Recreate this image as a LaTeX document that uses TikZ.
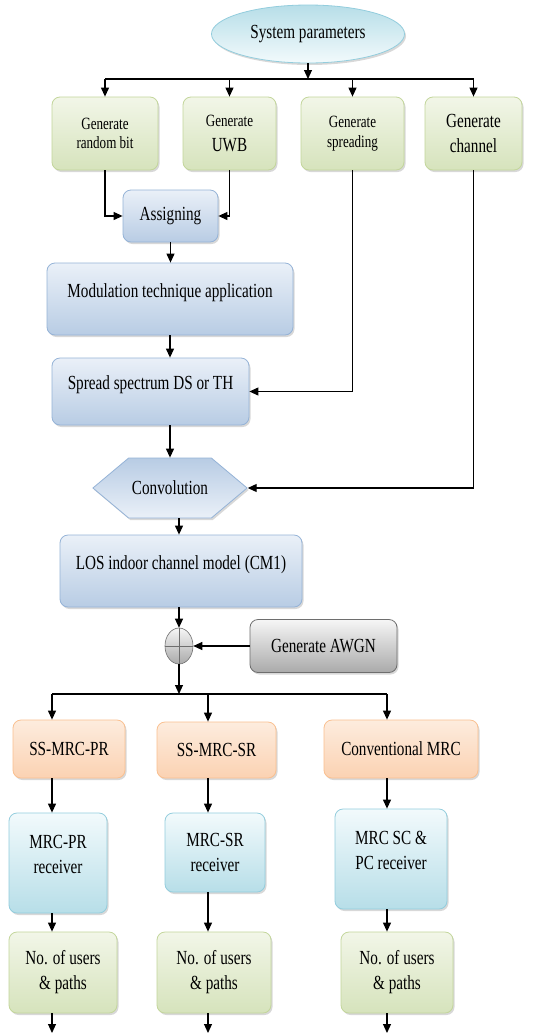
\documentclass[tikz,border=0pt]{standalone}
\usepackage{fontspec}
\setmainfont{Liberation Serif}[FakeStretch=0.76]
\usepackage{tikz}
\usetikzlibrary{shapes.geometric,shapes.symbols,shadows,arrows.meta}
\definecolor{greentop}{RGB}{242,246,232}
\definecolor{greenbot}{RGB}{214,227,188}
\definecolor{greenline}{RGB}{195,214,155}
\definecolor{bluetop}{RGB}{234,240,248}
\definecolor{bluebot}{RGB}{184,204,228}
\definecolor{blueline}{RGB}{149,179,215}
\definecolor{cyantop}{RGB}{242,250,252}
\definecolor{cyanbot}{RGB}{183,222,232}
\definecolor{cyanline}{RGB}{147,205,221}
\definecolor{orgtop}{RGB}{253,236,222}
\definecolor{orgbot}{RGB}{251,210,178}
\definecolor{orgline}{RGB}{250,192,144}
\definecolor{graytop}{RGB}{246,246,246}
\definecolor{graybot}{RGB}{170,170,170}
\definecolor{grayline}{RGB}{110,110,110}

\begin{document}
\begin{tikzpicture}[x=1pt,y=-1pt,
    box/.style={rounded corners=8pt,line width=0.8pt,align=center,inner sep=2pt,
        drop shadow={shadow xshift=1.5pt,shadow yshift=-2pt,opacity=0.3},
        font=\fontsize{20}{25}\selectfont},
    genbox/.style={box,draw=greenline,top color=greentop,bottom color=greenbot},
    procbox/.style={box,draw=blueline,top color=bluetop,bottom color=bluebot},
    rxbox/.style={box,draw=cyanline,top color=cyantop,bottom color=cyanbot},
    combbox/.style={box,draw=orgline,top color=orgtop,bottom color=orgbot},
    noisebox/.style={box,draw=grayline,top color=graytop,bottom color=graybot},
    smallfont/.style={font=\fontsize{17.2}{19.5}\selectfont},
    arr/.style={line width=1.1pt,-{Triangle[length=9pt,width=8pt]}},
    bus/.style={line width=1.1pt}]

    \fill[white] (0,0) rectangle (547,1034);
    \useasboundingbox (0,0) rectangle (547,1034);

    % Parameters
    \node[ellipse,draw=cyanline,line width=0.8pt,top color=cyanbot,bottom color=cyantop,
        minimum width=193pt,minimum height=58pt,
        drop shadow={shadow xshift=1.5pt,shadow yshift=-2pt,opacity=0.3},
        font=\fontsize{20}{25}\selectfont] (sys) at (308,34) {System parameters};

    % Generators
    \node[genbox,smallfont,minimum width=106pt,minimum height=73pt] (rbit) at (105,133.5) {Generate\\random bit};
    \node[genbox,minimum width=93pt,minimum height=73pt] (uwb) at (229.5,133.5) {{\fontsize{17.2}{19.5}\selectfont Generate}\\UWB};
    \node[genbox,smallfont,minimum width=103pt,minimum height=73pt] (sprd) at (352.5,133.5) {Generate\\spreading};
    \node[genbox,minimum width=97pt,minimum height=73pt] (chan) at (473.5,133.5) {Generate\\channel};

    % Transmitter chain
    \node[procbox,minimum width=95pt,minimum height=52pt] (asg) at (170.5,216) {Assigning};
    \node[procbox,minimum width=246pt,minimum height=72pt,text depth=17pt] (mod) at (170,299) {Modulation technique application};
    \node[procbox,minimum width=197pt,minimum height=67pt,text depth=17pt] (spr) at (150.5,391.5) {Spread spectrum DS or TH};
    \node[signal,signal to=west and east,signal pointer angle=80,draw=blueline,line width=0.8pt,
        top color=bluebot,bottom color=bluetop,minimum width=143pt,minimum height=60pt,
        drop shadow={shadow xshift=1.5pt,shadow yshift=-2pt,opacity=0.3},
        font=\fontsize{20}{25}\selectfont] (conv) at (170,488) {Convolution};
    \node[procbox,minimum width=242pt,minimum height=72pt,text depth=17pt] (los) at (181,571) {LOS indoor channel model (CM1)};

    % Noise
    \node[ellipse,draw=grayline,line width=0.6pt,top color=graytop,bottom color=graybot,
        minimum width=28pt,minimum height=36pt,inner sep=0pt] (sum) at (179,646) {};
    \draw[grayline,line width=0.6pt] (sum.north) -- (sum.south) (sum.west) -- (sum.east);
    \node[noisebox,minimum width=147pt,minimum height=53pt] (awgn) at (323.5,646) {Generate AWGN};

    % Receivers
    \node[combbox,minimum width=112pt,minimum height=58pt] (pr) at (69,749) {SS-MRC-PR};
    \node[combbox,minimum width=119pt,minimum height=56pt] (sr) at (216.5,750) {SS-MRC-SR};
    \node[combbox,minimum width=154pt,minimum height=58pt] (cm) at (401,749) {Conventional MRC};
    \node[rxbox,minimum width=98pt,minimum height=100pt,text depth=18pt] (rx1) at (58,863) {MRC-PR\\receiver};
    \node[rxbox,minimum width=100pt,minimum height=79pt] (rx2) at (215,852.5) {MRC-SR\\receiver};
    \node[rxbox,minimum width=112pt,minimum height=100pt,text depth=18pt] (rx3) at (391,859) {MRC SC \&\\PC receiver};
    \node[genbox,minimum width=108pt,minimum height=81pt] (us1) at (63,972.5) {No. of users\\\& paths};
    \node[genbox,minimum width=114pt,minimum height=81pt] (us2) at (214,972.5) {No. of users\\\& paths};
    \node[genbox,minimum width=112pt,minimum height=81pt] (us3) at (397,972.5) {No. of users\\\& paths};

    % Top bus
    \coordinate (tb) at (308,79);
    \draw[arr] (sys) -- (tb);
    \draw[bus] (rbit.north |- tb) -- (chan.north |- tb);
    \foreach \n in {rbit,uwb,sprd,chan}
        \draw[arr] (\n.north |- tb) -- (\n.north);

    % Chain connectors
    \draw[arr] (rbit.south) |- (asg.west);
    \draw[arr] (uwb.south) |- (asg.east);
    \draw[arr] (asg.south) -- (asg.south |- mod.north);
    \draw[arr] (mod.south) -- (mod.south |- spr.north);
    \draw[arr] (sprd.south) |- (spr.east);
    \draw[arr] (spr.south -| conv.north) -- (conv.north);
    \draw[arr] (chan.south) |- (conv.east);
    \draw[arr] (sum.north |- conv.south) -- (sum.north |- los.north);
    \draw[arr] (sum.north |- los.south) -- (sum.north);
    \draw[arr] (awgn.west) -- (sum.east);

    % Bottom bus
    \coordinate (mb) at (179,694);
    \coordinate (c1) at (52,694);
    \coordinate (c2) at (208,694);
    \coordinate (c3) at (387,694);
    \coordinate (bot) at (0,1033);
    \draw[arr] (sum.south) -- (mb);
    \draw[bus] (c1) -- (c3);
    \foreach \c/\a/\b/\d in {c1/pr/rx1/us1, c2/sr/rx2/us2, c3/cm/rx3/us3} {
        \draw[arr] (\c) -- (\c |- \a.north);
        \draw[arr] (\c |- \a.south) -- (\c |- \b.north);
        \draw[arr] (\c |- \b.south) -- (\c |- \d.north);
        \draw[arr] (\c |- \d.south) -- (\c |- bot);
    }
\end{tikzpicture}
\end{document}
